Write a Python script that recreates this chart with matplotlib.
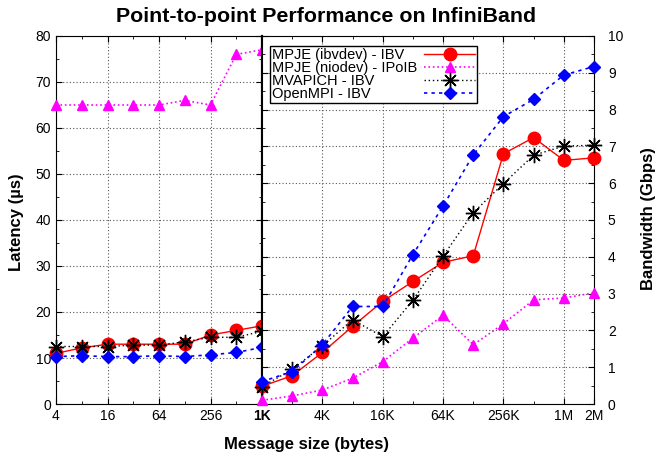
import numpy as np
import matplotlib.pyplot as plt
from matplotlib.ticker import FixedLocator, NullFormatter, MultipleLocator

plt.rcParams['font.family'] = ['Liberation Sans', 'DejaVu Sans']

# latency part: 4 B .. 1 KB
lat_sizes = [4, 8, 16, 32, 64, 128, 256, 512, 1024]
lat_ibvdev = [11.0, 12.2, 13.0, 13.0, 13.0, 13.0, 15.0, 16.0, 17.0]
lat_niodev = [65.0, 65.0, 65.0, 65.0, 65.0, 66.0, 65.0, 76.0, 77.0]
lat_mvapich = [12.5, 12.5, 12.5, 12.8, 12.8, 13.5, 14.5, 14.5, 15.8]
lat_openmpi = [10.3, 10.5, 10.3, 10.3, 10.5, 10.3, 10.7, 11.2, 12.3]

# bandwidth part: 1 KB .. 2 MB
bw_sizes = [2 ** k for k in range(10, 22)]
bw_ibvdev = [0.48, 0.77, 1.40, 2.11, 2.79, 3.33, 3.85, 4.03, 6.80, 7.24, 6.62, 6.69]
bw_niodev = [0.10, 0.22, 0.38, 0.70, 1.15, 1.79, 2.41, 1.61, 2.18, 2.83, 2.88, 3.02]
bw_mvapich = [0.47, 0.94, 1.58, 2.29, 1.83, 2.82, 4.02, 5.20, 5.99, 6.76, 7.01, 7.03]
bw_openmpi = [0.61, 0.88, 1.61, 2.65, 2.65, 4.06, 5.38, 6.77, 7.81, 8.28, 8.94, 9.17]

labels = ["MPJE (ibvdev) - IBV", "MPJE (niodev) - IPoIB", "MVAPICH - IBV", "OpenMPI - IBV"]
styles = [
    dict(color="#ff0000", ls="-", lw=1, marker="o", ms=9),
    dict(color="#ff00ff", ls=":", lw=1.2, marker="^", ms=7.5),
    dict(color="black", ls=(0, (1, 2)), lw=1, marker=(8, 2, 0), ms=11, mew=1),
    dict(color="#0000ff", ls=(0, (2, 2.5)), lw=1.2, marker="D", ms=6),
]

fig = plt.figure(figsize=(6.57, 4.59), dpi=100)
W, H = 657, 459
x0, xs, x1 = 56, 262, 594
yb, yt = 404, 36
ax1 = fig.add_axes([x0 / W, 1 - yb / H, (xs - x0) / W, (yb - yt) / H])
ax2 = fig.add_axes([xs / W, 1 - yb / H, (x1 - xs) / W, (yb - yt) / H])

grid_kw = dict(color="#555555", ls=(0, (1, 2)), lw=0.8)

for ys, st in zip([lat_ibvdev, lat_niodev, lat_mvapich, lat_openmpi], styles):
    ax1.plot(lat_sizes, ys, clip_on=False, zorder=3, **st)
for ys, st, lab in zip([bw_ibvdev, bw_niodev, bw_mvapich, bw_openmpi], styles, labels):
    ax2.plot(bw_sizes, ys, label=lab, clip_on=False, zorder=3, **st)

ax1.set_xscale("log", base=2)
ax1.set_xlim(4, 1024)
ax1.set_ylim(0, 80)
ax1.xaxis.set_major_locator(FixedLocator([4, 16, 64, 256, 1024]))
ax1.xaxis.set_minor_locator(FixedLocator([8, 32, 128, 512]))
ax1.xaxis.set_minor_formatter(NullFormatter())
ax1.set_xticklabels(["4", "16", "64", "256", "1K"])
ax1.get_xticklabels()[-1].set_fontweight("bold")
ax1.yaxis.set_major_locator(MultipleLocator(10))
ax1.yaxis.set_minor_locator(MultipleLocator(5))
ax1.grid(True, which="major", **grid_kw)
ax1.tick_params(which="both", direction="in", top=True, right=True, labelsize=10)
ax1.tick_params(which="major", length=4)
ax1.tick_params(which="minor", length=2)
ax1.spines["right"].set_linewidth(1.5)

ax2.set_xscale("log", base=2)
ax2.set_xlim(1024, 2 ** 21)
ax2.set_ylim(0, 10)
ax2.xaxis.set_major_locator(FixedLocator([4096, 16384, 65536, 262144, 2 ** 20, 2 ** 21]))
ax2.xaxis.set_minor_locator(FixedLocator([2048, 8192, 32768, 131072, 524288]))
ax2.xaxis.set_minor_formatter(NullFormatter())
ax2.set_xticklabels(["4K", "16K", "64K", "256K", "1M", "2M"])
ax2.yaxis.set_major_locator(MultipleLocator(1))
ax2.yaxis.set_minor_locator(MultipleLocator(0.5))
ax2.yaxis.tick_right()
ax2.grid(True, which="major", **grid_kw)
ax2.tick_params(which="both", direction="in", top=True, left=True, right=True,
                labelleft=False, labelright=True, labelsize=10)
ax2.tick_params(which="major", length=4)
ax2.tick_params(which="minor", length=2)
ax2.tick_params(axis="y", pad=10)
ax2.spines["left"].set_linewidth(1.5)

leg = ax2.legend(loc="upper left", bbox_to_anchor=(0.024, 0.973), markerfirst=False,
                 fontsize=10.5, labelspacing=-0.06, handlelength=3.5, handletextpad=0.5,
                 borderpad=0.12, borderaxespad=0, fancybox=False, framealpha=1)
leg.get_frame().set_edgecolor("black")
leg.get_frame().set_linewidth(1)

# keep labels left-aligned while handles stay in a column on the right
fig.canvas.draw()
renderer = fig.canvas.get_renderer()
widths = [t.get_window_extent(renderer).width for t in leg.get_texts()]
items = [hp for col in leg._legend_handle_box.get_children() for hp in col.get_children()]
for hp, w in zip(items, widths):
    hp.sep += (max(widths) - w) * 72 / fig.dpi

fig.text(326 / W, 1 - 17 / H, "Point-to-point Performance on InfiniBand",
         ha="center", va="center", fontsize=15.4, fontweight="bold")
fig.text(307 / W, 1 - 444 / H, "Message size (bytes)",
         ha="center", va="center", fontsize=12, fontweight="bold")
fig.text(17 / W, 1 - 222 / H, "Latency (\u00b5s)", rotation=90,
         ha="center", va="center", fontsize=12, fontweight="bold")
fig.text(649 / W, 1 - 219 / H, "Bandwidth (Gbps)", rotation=90,
         ha="center", va="center", fontsize=12, fontweight="bold")

fig.savefig("out.png", dpi=100)
